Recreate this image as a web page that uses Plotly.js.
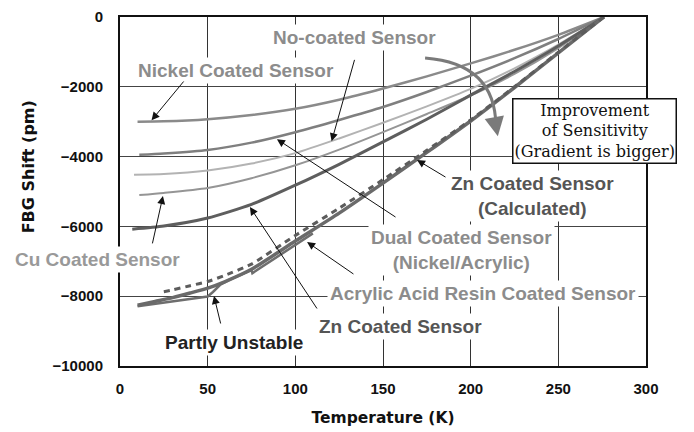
<!DOCTYPE html>
<html>
<head>
<meta charset="utf-8">
<script src="https://cdn.plot.ly/plotly-3.0.1.min.js"></script>
<style>html,body{margin:0;padding:0;background:#fff;}#chart{width:694px;height:432px;}</style>
</head>
<body>
<div id="chart"></div>
<script>
// ---- data ----
const nickelX = [10, 25, 50, 75, 100, 125, 150, 175, 200, 225, 250, 276];
const nickelY = [-3000, -2990, -2930, -2810, -2630, -2370, -2050, -1700, -1330, -940, -510, 0];

const dualX = [11, 25, 50, 75, 100, 125, 150, 175, 200, 225, 250, 276];
const dualY = [-3950, -3910, -3810, -3600, -3300, -2950, -2580, -2150, -1680, -1180, -630, 0];

const noCoatX = [8, 25, 50, 75, 100, 125, 150, 175, 200, 225, 250, 276];
const noCoatY = [-4520, -4500, -4400, -4200, -3900, -3480, -3030, -2560, -2060, -1470, -790, 0];

const cuX = [11, 25, 50, 75, 100, 125, 150, 175, 200, 225, 250, 276];
const cuY = [-5100, -5040, -4900, -4620, -4250, -3800, -3300, -2780, -2250, -1630, -890, 0];

const znX = [7, 25, 50, 75, 100, 125, 150, 175, 200, 225, 250, 276];
const znY = [-6080, -5990, -5760, -5370, -4820, -4220, -3580, -2930, -2240, -1560, -830, 0];

const acrylicX = [10, 20, 30, 40, 50, 60, 75, 100, 125, 150, 175, 200, 225, 250, 276];
const acrylicY = [-8260, -8150, -8040, -7910, -7770, -7580, -7230, -6420, -5620, -4760, -3880, -2980, -2020, -1030, 0];

const unstableX = [10, 20, 30, 40, 50, 53, 57, 62, 75, 75.5, 100, 110];
const unstableY = [-8290, -8220, -8150, -8080, -8010, -7880, -7680, -7540, -7250, -7340, -6540, -6200];

const calcX = [25, 30, 40, 50, 60, 75, 100, 125, 150, 175, 200, 225, 250, 276];
const calcY = [-7870, -7820, -7700, -7580, -7400, -7080, -6260, -5480, -4660, -3820, -2950, -2000, -1010, 0];

const xTickVals = [0, 50, 100, 150, 200, 250, 300];
const xTickText = ["0", "50", "100", "150", "200", "250", "300"];
const yTickVals = [0, -2000, -4000, -6000, -8000, -10000];
const yTickText = ["0", "\u22122000", "\u22124000", "\u22126000", "\u22128000", "\u221210000"];

// ---- traces ----
function line(x, y, color, width, dash, shape) {
  return {x: x, y: y, type: 'scatter', mode: 'lines',
    line: {color: color, width: width, dash: dash || 'solid', shape: shape || 'spline', smoothing: 0.6},
    hoverinfo: 'skip', showlegend: false};
}
const traces = [
  line(nickelX, nickelY, '#8a8a8a', 2.5),
  line(dualX, dualY, '#7f7f7f', 2.5),
  line(noCoatX, noCoatY, '#b3b3b3', 2),
  line(cuX, cuY, '#959595', 2),
  line(znX, znY, '#5e5e5e', 3),
  line(unstableX, unstableY, '#6e6e6e', 2.5, 'solid', 'linear'),
  line(acrylicX, acrylicY, '#6a6a6a', 3.5),
  line(calcX, calcY, '#5c5c5c', 3, '6px,5px')
];

const labelFont = {family: 'Liberation Sans, Arial, sans-serif', size: 19, color: '#8c8c8c', weight: 'bold'};
function lab(x, y, text, color, xref) {
  return {x: x, y: y, xref: xref || 'x', yref: 'y', xanchor: 'center', yanchor: 'middle', text: text, showarrow: false,
    font: Object.assign({}, labelFont, {color: color || '#8c8c8c'}), bgcolor: '#ffffff', borderpad: 2, align: 'center'};
}
function arr(tx, ty, hx, hy) {
  return {x: hx, y: hy, ax: tx, ay: ty, xref: 'x', yref: 'y', axref: 'x', ayref: 'y', text: '',
    showarrow: true, arrowhead: 2, arrowsize: 1.6, arrowwidth: 1, arrowcolor: '#111'};
}

const titleFont = {family: 'DejaVu Sans, sans-serif', size: 16, color: '#111', weight: 'bold'};

const annotations = [
  lab(134, -600, 'No-coated Sensor'),
  lab(66, -1520, 'Nickel Coated Sensor'),
  lab(235, -5130, 'Zn Coated Sensor<br>(Calculated)', '#555555'),
  lab(194.5, -6680, 'Dual Coated Sensor<br>(Nickel/Acrylic)'),
  lab(207, -7910, 'Acrylic Acid Resin Coated Sensor'),
  lab(159.7, -8880, 'Zn Coated Sensor', '#555555'),
  lab(-0.0437, -6940, 'Cu Coated Sensor', '#999999', 'paper'),
  lab(65, -9340, 'Partly Unstable', '#222222'),
  {x: 270.9, y: -3266, xref: 'x', yref: 'y', xanchor: 'center', yanchor: 'middle', showarrow: false,
    text: 'Improvement<br>of Sensitivity<br>(Gradient is bigger)',
    font: {family: 'DejaVu Serif, serif', size: 16, color: '#111'},
    bgcolor: '#ffffff', bordercolor: '#111', borderwidth: 1.5, borderpad: 1, align: 'center'},
  arr(37, -1805, 18, -2960),
  arr(134, -1185, 120.7, -3560),
  arr(158, -5760, 89.5, -3500),
  arr(18.3, -6530, 24.5, -5130),
  arr(112.9, -8395, 74.1, -5444),
  arr(186.5, -4613, 169.4, -4097),
  arr(134, -7393, 106.7, -6447),
  arr(57.6, -8825, 53.6, -7994),
  {x: 215.5, y: -3420, ax: 214.4, ay: -3120, xref: 'x', yref: 'y', axref: 'x', ayref: 'y', text: '',
    showarrow: true, arrowhead: 2, arrowsize: 1.3, arrowwidth: 3, arrowcolor: '#7a7a7a'},
  {x: -0.175, y: 0.572, xref: 'paper', yref: 'paper', xanchor: 'center', yanchor: 'middle',
    text: 'FBG Shift (pm)', textangle: -90, showarrow: false, font: titleFont}
];

const shapes = [
  {type: 'path', xref: 'x', yref: 'y', path: 'M 174,-1175 Q 214,-1330 214.4,-3120', line: {color: '#7a7a7a', width: 3}}
];

const layout = {
  width: 694, height: 432,
  margin: {l: 120, r: 48, t: 17, b: 66},
  paper_bgcolor: '#ffffff', plot_bgcolor: '#ffffff',
  showlegend: false,
  xaxis: {range: [0, 300], tickvals: xTickVals, ticktext: xTickText, showgrid: true, gridcolor: '#333', gridwidth: 1,
    zeroline: false, showline: true, linecolor: '#111', linewidth: 2, mirror: true, ticks: '', ticklabelstandoff: 8,
    tickfont: {family: 'Liberation Sans, Arial, sans-serif', size: 15, color: '#111', weight: 'bold'},
    title: {text: 'Temperature (K)', standoff: 16, font: Object.assign({}, titleFont, {size: 15.5})}},
  yaxis: {range: [-10000, 0], tickvals: yTickVals, ticktext: yTickText, showgrid: true, gridcolor: '#444', gridwidth: 1,
    zeroline: false, showline: true, linecolor: '#111', linewidth: 2, mirror: true, ticks: '', ticklabelstandoff: 12,
    tickfont: {family: 'Liberation Sans, Arial, sans-serif', size: 15, color: '#111', weight: 'bold'}},
  annotations: annotations,
  shapes: shapes
};

Plotly.newPlot('chart', traces, layout, {staticPlot: true, displayModeBar: false});
</script>
</body>
</html>
